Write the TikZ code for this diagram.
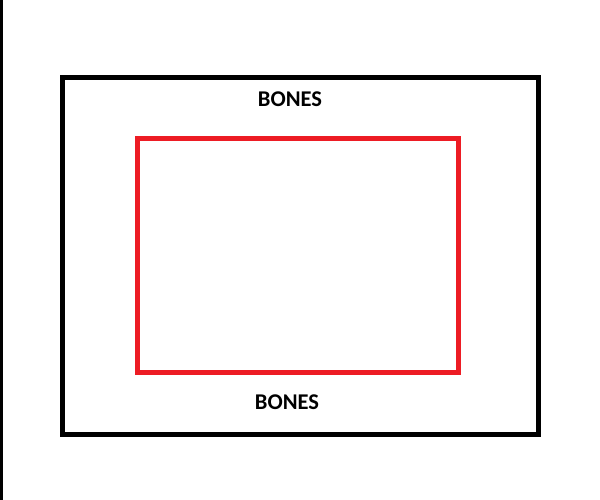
\documentclass[tikz,border=0pt]{standalone}
\usepackage{fontspec}
\setmainfont{Carlito}
\begin{document}
\begin{tikzpicture}[x=1pt,y=-1pt,
  frame/.style={line width=5pt},
  lbl/.style={font=\bfseries\fontsize{22.5}{26}\selectfont, inner sep=0pt, anchor=base}]
\useasboundingbox (0,0) rectangle (600,500);
\fill[black] (0,0) rectangle (3,500);
\node[frame, draw=black, minimum width=476.5pt, minimum height=357pt, inner sep=0pt] (outer) at (300.25,256) {};
\node[frame, draw={rgb,255:red,237;green,28;blue,36}, minimum width=321pt, minimum height=234pt, inner sep=0pt] (inner) at (298,255.25) {};
\node[lbl] (top) at (290,107) {BONES};
\node[lbl] (bot) at (287,409.5) {BONES};
\end{tikzpicture}
\end{document}
